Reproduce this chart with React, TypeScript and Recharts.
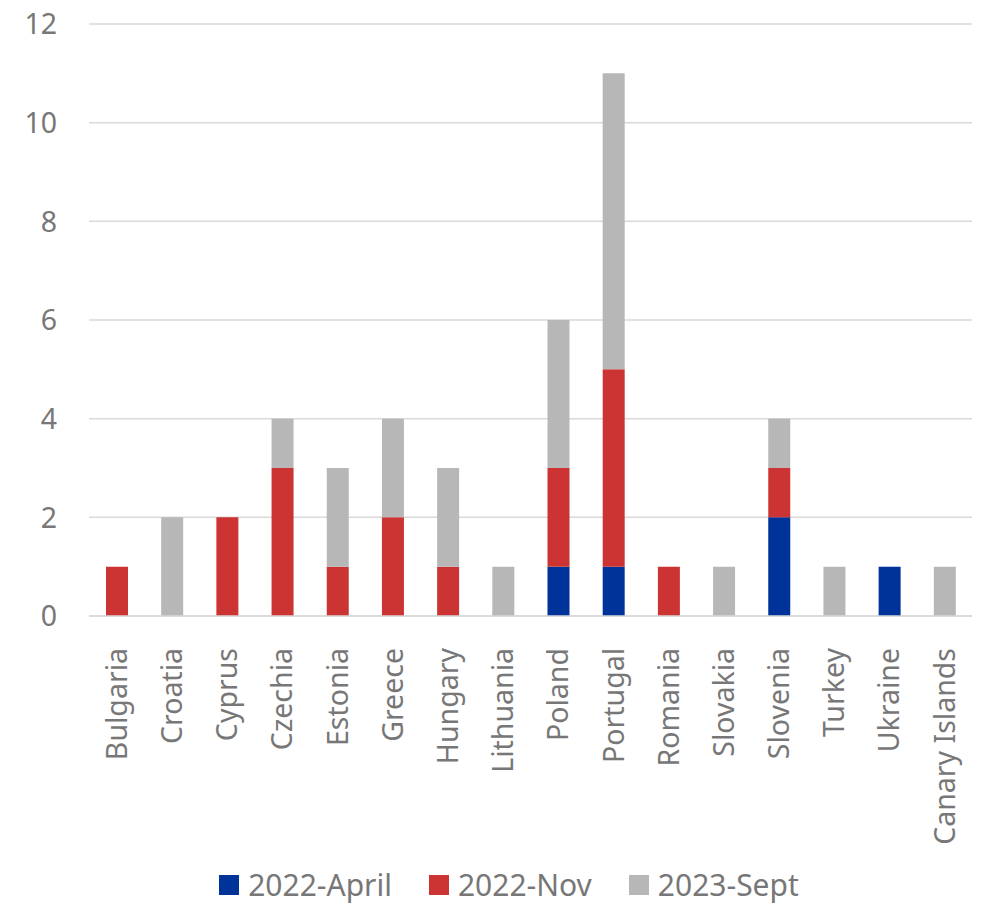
import React from "react";
import { BarChart, Bar, XAxis, YAxis, CartesianGrid, Legend } from "recharts";

const countries = ["Bulgaria","Croatia","Cyprus","Czechia","Estonia","Greece","Hungary","Lithuania","Poland","Portugal","Romania","Slovakia","Slovenia","Turkey","Ukraine","Canary Islands"];
const april2022 = [0,0,0,0,0,0,0,0,1,1,0,0,2,0,1,0];
const nov2022 = [1,0,2,3,1,2,1,0,2,4,1,0,1,0,0,0];
const sept2023 = [0,2,0,1,2,2,2,1,3,6,0,1,1,1,0,1];
const yTicks = [0,2,4,6,8,10,12];

const seriesInfo = [
  { key: "april", name: "2022-April", color: "#003399" },
  { key: "nov", name: "2022-Nov", color: "#CC3333" },
  { key: "sept", name: "2023-Sept", color: "#B7B7B7" },
];

const data = countries.map((c, i) => ({
  name: c,
  april: april2022[i],
  nov: nov2022[i],
  sept: sept2023[i],
}));

const FONT = "'Noto Sans', sans-serif";
const TEXT = "#777777";

const XTick = (props: any) => {
  const { x, y, payload } = props;
  return (
    <text
      x={x}
      y={y + 24}
      transform={`rotate(-90, ${x}, ${y + 24})`}
      textAnchor="end"
      dy="0.36em"
      fill={TEXT}
      fontSize={28.5}
      fontFamily={FONT}
    >
      {payload.value}
    </text>
  );
};

const YTick = (props: any) => {
  const { y, payload } = props;
  return (
    <text x={57} y={y} dy="0.36em" textAnchor="end" fill={TEXT} fontSize={28.5} fontFamily={FONT}>
      {payload.value}
    </text>
  );
};

const LegendContent = () => (
  <div style={{ display: "flex", justifyContent: "center", alignItems: "center", gap: 37, paddingLeft: 46, height: 38, fontFamily: FONT, fontSize: 30, color: TEXT, lineHeight: "38px" }}>
    {seriesInfo.map((s) => (
      <div key={s.key} style={{ display: "flex", alignItems: "center" }}>
        <span style={{ display: "inline-block", width: 20, height: 20, background: s.color, marginRight: 9 }} />
        <span>{s.name}</span>
      </div>
    ))}
  </div>
);

export default function App() {
  return (
    <div style={{ position: "absolute", left: 0, top: 0, background: "#fff" }}>
      <BarChart
        width={997}
        height={904}
        data={data}
        margin={{ top: 24, right: 25, left: 0, bottom: 0 }}
        barCategoryGap="30%"
      >
        <CartesianGrid vertical={false} stroke="#D9D9D9" strokeWidth={1.5} />
        <XAxis
          dataKey="name"
          interval={0}
          height={250}
          tickLine={false}
          axisLine={{ stroke: "#D9D9D9", strokeWidth: 1.5 }}
          tick={<XTick />}
        />
        <YAxis
          width={89}
          domain={[0, 12]}
          ticks={yTicks}
          tickLine={false}
          axisLine={false}
          tick={<YTick />}
        />
        <Legend verticalAlign="bottom" height={38} content={<LegendContent />} />
        {seriesInfo.map((s) => (
          <Bar key={s.key} dataKey={s.key} name={s.name} stackId="a" fill={s.color} barSize={22} isAnimationActive={false} />
        ))}
      </BarChart>
    </div>
  );
}
